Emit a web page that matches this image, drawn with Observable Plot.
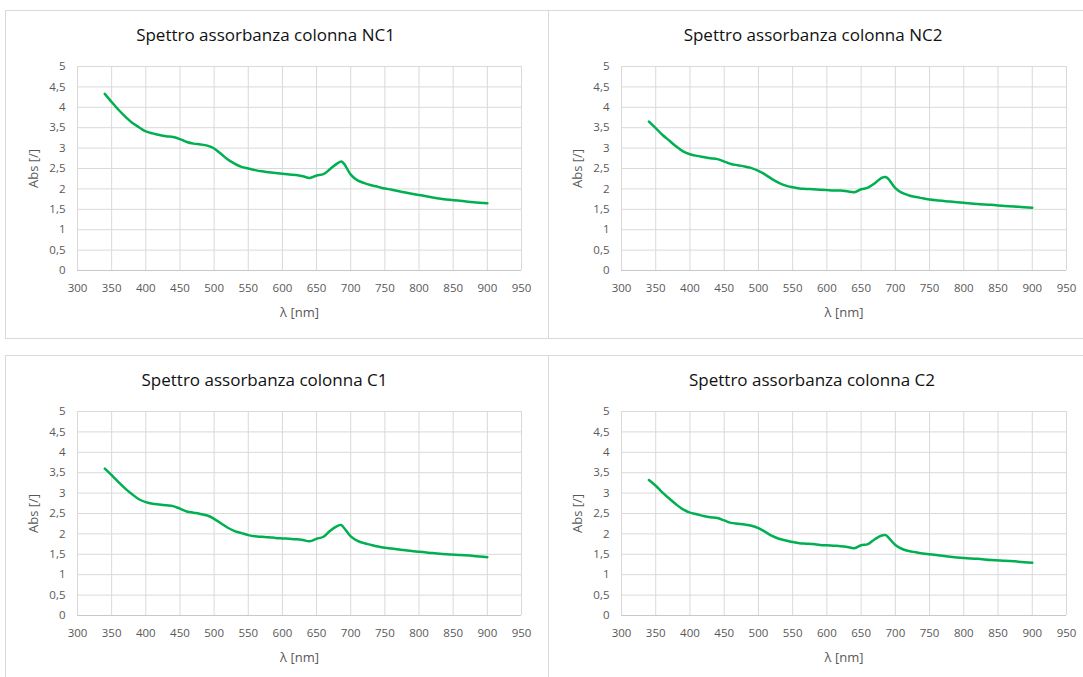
<!DOCTYPE html>
<html>
<head>
<meta charset="utf-8">
<script src="https://cdn.jsdelivr.net/npm/d3@7"></script>
<script src="https://cdn.jsdelivr.net/npm/@observablehq/plot@0.6"></script>
<style>
  html, body { margin: 0; padding: 0; background: #fff; }
  #root { position: relative; width: 1083px; height: 677px; overflow: hidden; font-family: "Open Sans", sans-serif; }
  .panel { position: absolute; border: 1px solid #d9d9d9; box-sizing: border-box; background: #fff; }
  .title { position: absolute; width: 400px; text-align: center; font-size: 17px; line-height: 22px; color: #111; white-space: nowrap; }
  .chart { position: absolute; }
</style>
</head>
<body>
<div id="root"></div>
<script>
// ---- data ----
const titles = [
  "Spettro assorbanza colonna NC1",
  "Spettro assorbanza colonna NC2",
  "Spettro assorbanza colonna C1",
  "Spettro assorbanza colonna C2"
];
const xTicks = [300, 350, 400, 450, 500, 550, 600, 650, 700, 750, 800, 850, 900, 950];
const yTicks = [0, 0.5, 1, 1.5, 2, 2.5, 3, 3.5, 4, 4.5, 5];
const xLabel = "λ [nm]";
const yLabel = "Abs [/]";

const wavelengths = [340,350,360,370,380,390,400,410,420,430,440,450,460,470,480,490,500,510,520,530,540,550,560,570,580,590,600,610,620,630,640,650,660,670,680,686,690,700,710,720,730,740,750,760,780,800,820,840,860,880,900];

const absNC1 = [4.33,4.13,3.94,3.77,3.62,3.51,3.41,3.36,3.32,3.29,3.27,3.22,3.15,3.11,3.09,3.06,2.99,2.86,2.72,2.62,2.54,2.50,2.46,2.43,2.41,2.39,2.37,2.35,2.34,2.31,2.27,2.33,2.36,2.49,2.62,2.67,2.62,2.35,2.21,2.14,2.09,2.05,2.01,1.98,1.91,1.85,1.79,1.74,1.71,1.67,1.65];
const absNC2 = [3.65,3.49,3.32,3.18,3.04,2.92,2.85,2.81,2.78,2.75,2.73,2.67,2.61,2.58,2.55,2.51,2.44,2.35,2.24,2.15,2.08,2.04,2.01,2.00,1.99,1.98,1.97,1.96,1.96,1.94,1.92,1.99,2.03,2.14,2.27,2.29,2.24,2.02,1.90,1.84,1.80,1.77,1.74,1.72,1.69,1.66,1.63,1.61,1.58,1.56,1.54];
const absC1 = [3.60,3.44,3.27,3.11,2.97,2.85,2.78,2.74,2.72,2.70,2.68,2.62,2.55,2.52,2.49,2.45,2.37,2.26,2.15,2.07,2.02,1.97,1.94,1.93,1.92,1.90,1.89,1.88,1.87,1.85,1.82,1.88,1.93,2.08,2.19,2.22,2.15,1.94,1.83,1.77,1.73,1.69,1.66,1.64,1.60,1.56,1.53,1.50,1.48,1.46,1.43];
const absC2 = [3.32,3.18,3.01,2.86,2.72,2.60,2.52,2.48,2.44,2.41,2.39,2.33,2.27,2.25,2.23,2.20,2.14,2.05,1.95,1.88,1.84,1.80,1.77,1.76,1.75,1.73,1.72,1.71,1.70,1.68,1.65,1.72,1.75,1.87,1.96,1.97,1.91,1.73,1.63,1.58,1.55,1.52,1.50,1.48,1.44,1.41,1.39,1.36,1.34,1.32,1.29];

const series = [absNC1, absNC2, absC1, absC2];

// ---- layout ----
const layouts = [
  { pl: 5,   pt: 10,  pw: 544, ph: 329, titleX: 265.5, titleY: 35,  svgTop: 45,  width: 543, mL: 72, mR: 27 },
  { pl: 548, pt: 10,  pw: 540, ph: 329, titleX: 813,   titleY: 35,  svgTop: 45,  width: 535, mL: 73, mR: 17 },
  { pl: 5,   pt: 355, pw: 544, ph: 340, titleX: 264.5, titleY: 380, svgTop: 390, width: 543, mL: 72, mR: 27 },
  { pl: 548, pt: 355, pw: 540, ph: 340, titleX: 812,   titleY: 380, svgTop: 390, width: 535, mL: 73, mR: 17 }
];

const root = document.getElementById("root");
const fmt = d => String(d).replace(".", ",");

layouts.forEach((L, i) => {
  const panel = document.createElement("div");
  panel.className = "panel";
  Object.assign(panel.style, { left: L.pl + "px", top: L.pt + "px", width: L.pw + "px", height: L.ph + "px" });
  root.appendChild(panel);

  const t = document.createElement("div");
  t.className = "title";
  t.textContent = titles[i];
  Object.assign(t.style, { left: (L.titleX - 200) + "px", top: (L.titleY - 11) + "px" });
  root.appendChild(t);

  const data = wavelengths.map((w, k) => ({ wl: w, abs: series[i][k] }));

  const chart = Plot.plot({
    width: L.width,
    height: 285,
    marginLeft: L.mL,
    marginRight: L.mR,
    marginTop: 21,
    marginBottom: 60,
    style: { fontFamily: "Open Sans, sans-serif", fontSize: "11.5px", color: "#595959", background: "transparent", overflow: "visible" },
    x: { domain: [300, 950] },
    y: { domain: [0, 5] },
    marks: [
      Plot.gridX(xTicks, { stroke: "#d9d9d9", strokeOpacity: 1 }),
      Plot.gridY(yTicks, { stroke: "#d9d9d9", strokeOpacity: 1 }),
      Plot.ruleY([0], { stroke: "#c8c8c8" }),
      Plot.axisX(xTicks, { tickSize: 0, tickPadding: 13, fontSize: 11.5, label: null }),
      Plot.axisX({ ticks: [], tickSize: 0, label: xLabel, labelAnchor: "center", labelArrow: "none", labelOffset: 46, fontSize: 13 }),
      Plot.axisY(yTicks, { tickSize: 0, tickPadding: 12, tickFormat: fmt, fontSize: 11.5, label: null }),
      Plot.axisY({ ticks: [], tickSize: 0, label: yLabel, labelAnchor: "center", labelArrow: "none", labelOffset: 49, fontSize: 13 }),
      Plot.line(data, { x: "wl", y: "abs", curve: "catmull-rom", stroke: "#00b050", strokeWidth: 2.5 })
    ]
  });
  chart.classList.add("chart");
  Object.assign(chart.style, { left: L.pl + "px", top: L.svgTop + "px" });
  root.appendChild(chart);
});
</script>
</body>
</html>
